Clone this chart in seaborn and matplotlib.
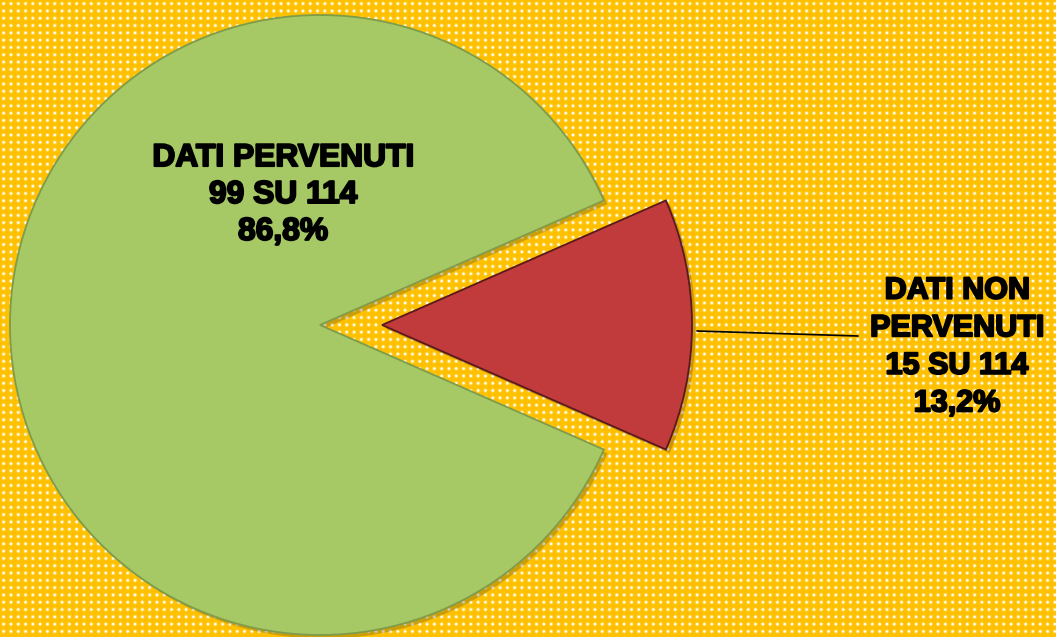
import matplotlib
matplotlib.use("Agg")
import matplotlib.pyplot as plt
import matplotlib.patheffects as pe
import numpy as np
import seaborn as sns

# dati
categorie = ["DATI NON\nPERVENUTI", "DATI PERVENUTI"]
valori = [15, 99]
totale = 114
colori = ["#C23B3C", "#A6C965"]
bordi = ["#5A1A1B", "#7F9C4A"]

sns.set_theme(style="white")
plt.rcParams["font.family"] = ["Liberation Sans", "DejaVu Sans"]

W, H = 1056, 637
fig = plt.figure(figsize=(12, H / 88), dpi=88)
fig.patch.set_facecolor("#FFC000")

# sfondo arancione a pois bianchi (texture)
passo = 7.3
yy, xx = np.mgrid[0:H, 0:W].astype(float)
dx = (xx + 0.5) % passo - passo / 2
dy = (yy + 0.5) % passo - passo / 2
glow = np.clip(1.3 * np.exp(-(dx ** 2 + dy ** 2) / (2 * 1.0 ** 2)), 0, 1)
arancio = np.array([1.0, 0.753, 0.0])
bianco = np.array([1.0, 1.0, 0.96])
img = arancio * (1 - glow[..., None]) + bianco * glow[..., None]
bg = fig.add_axes([0, 0, 1, 1], zorder=0)
bg.imshow(img, extent=(0, W, 0, H), interpolation="nearest", aspect="auto")
bg.axis("off")

ax = fig.add_axes([0, 0, 1, 1], zorder=1)
ax.set_facecolor("none")

raggio = 310
start = -valori[0] / totale * 180
wedges, _ = ax.pie(valori, colors=colori, startangle=start,
                   explode=[0.2 * raggio, 0],
                   center=(320, 312), radius=raggio, counterclock=True,
                   wedgeprops=dict(linewidth=1.5))
for w, b in zip(wedges, bordi):
    w.set_edgecolor(b)
    w.set_path_effects([pe.SimplePatchShadow(offset=(3, -3), alpha=0.25), pe.Normal()])

ax.set_xlim(0, W)
ax.set_ylim(0, H)
ax.set_aspect("equal")
ax.axis("off")

etichette = [f"{c}\n{v} SU {totale}\n{v / totale * 100:.1f}%".replace(".", ",")
             for c, v in zip(categorie, valori)]
spessore = [pe.withStroke(linewidth=1.6, foreground="black")]

ax.text(283, H - 195, etichette[1], ha="center", va="center", fontsize=26,
        fontweight="heavy", linespacing=1.3, color="black", path_effects=spessore)
ax.text(957, H - 347, etichette[0], ha="center", va="center", fontsize=25,
        fontweight="heavy", linespacing=1.33, color="black", path_effects=spessore)

# linea di richiamo
ax.plot([697, 858], [H - 331, H - 336], color="black", linewidth=1.4)

fig.savefig("out.png", dpi=88, facecolor=fig.get_facecolor())
